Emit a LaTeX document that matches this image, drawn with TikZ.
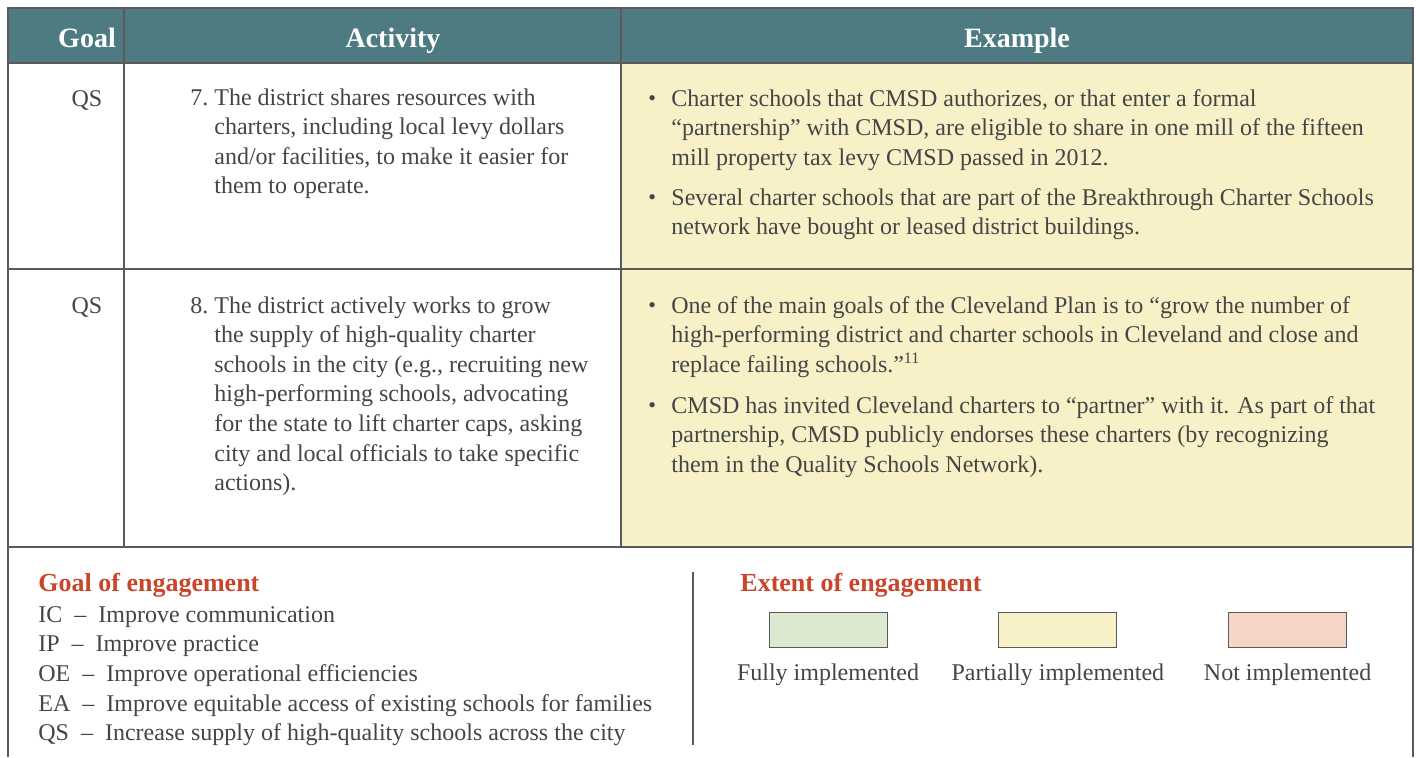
\documentclass[tikz,border=0pt]{standalone}
\usepackage{fontspec}
\setmainfont{Liberation Serif}
\usetikzlibrary{positioning}

\definecolor{headteal}{HTML}{4E7B81}
\definecolor{partyellow}{HTML}{F8F1C8}
\definecolor{fullgreen}{HTML}{DCE8D0}
\definecolor{notpink}{HTML}{F5D6C6}
\definecolor{legendred}{HTML}{C8462B}
\definecolor{txtgray}{HTML}{454545}
\definecolor{rulegray}{HTML}{5A5A5A}

\begin{document}
\begin{tikzpicture}[x=0.5pt,y=-0.5pt, node distance = 55.5pt,
  head/.style={anchor=base, inner sep=0pt, text=white, font=\bfseries\fontsize{14}{16}\selectfont},
  body/.style={anchor=base west, inner sep=0pt, text=txtgray, font=\fontsize{12}{14.8}\selectfont},
  para/.style={anchor=north west, align=left, inner sep=0pt, text=txtgray, font=\fontsize{12}{14.8}\selectfont, execute at begin node=\strut},
  goal/.style={anchor=base, inner sep=0pt, text=txtgray, font=\fontsize{12}{14.8}\selectfont},
  dot/.style={anchor=base west, inner sep=0pt, text=txtgray, font=\fontsize{11}{14.8}\selectfont},
  legtitle/.style={anchor=base west, inner sep=0pt, text=legendred, font=\bfseries\fontsize{13}{15}\selectfont},
  swatch/.style={rectangle, draw=rulegray, minimum width=59pt, minimum height=17.5pt, inner sep=0pt},
  swlabel/.style={inner sep=0pt, text=txtgray, font=\fontsize{12}{14.8}\selectfont},
  rule/.style={draw=rulegray, line width=0.6pt} ]
\useasboundingbox (0,0) rectangle (1416,757);
\fill [white] (0,0) rectangle (1416,757);
\fill [headteal] (8,8) rectangle (1413,63);
\fill [partyellow] (621,63) rectangle (1413,547);
% table rules
\draw [rule] (8,757) -- (8,8) -- (1413,8) -- (1413,757);
\draw [rule] (8,63) -- (1413,63);
\draw [rule] (8,269) -- (1413,269);
\draw [rule] (8,547) -- (1413,547);
\draw [rule] (124,8) -- (124,547);
\draw [rule] (621,8) -- (621,547);
\draw [rule] (693,572) -- (693,745);

% header
\node (hgoal) [head] at (87,47) {Goal};
\node (hact) [head] at (393,47) {Activity};
\node (hex) [head] at (1017,47) {Example};

% row 7
\node (goal7) [goal] at (87,106) {QS};
\node (num7) [body] at (190,105) {7.};
\node (act7) [para] at (214,88) {The district shares resources with\\ charters, including local levy dollars\\ and/or facilities, to make it easier for\\ them to operate.};
\node (dot7a) [dot] at (648,105) {•};
\node (ex7a) [para] at (671,89) {Charter schools that CMSD authorizes, or that enter a formal\\ “partnership” with CMSD, are eligible to share in one mill of the fifteen\\ mill property tax levy CMSD passed in 2012.};
\node (dot7b) [dot] at (648,204) {•};
\node (ex7b) [para] at (671,188) {Several charter schools that are part of the Breakthrough Charter Schools\\ network have bought or leased district buildings.};

% row 8
\node (goal8) [goal] at (87,313) {QS};
\node (num8) [body] at (190,313) {8.};
\node (act8) [para] at (214,296) {The district actively works to grow\\ the supply of high-quality charter\\ schools in the city (e.g., recruiting new\\ high-performing schools, advocating\\ for the state to lift charter caps, asking\\ city and local officials to take specific\\ actions).};
\node (dot8a) [dot] at (648,312) {•};
\node (ex8a) [para] at (671,296) {One of the main goals of the Cleveland Plan is to “grow the number of\\ high-performing district and charter schools in Cleveland and close and\\ replace failing schools.”\textsuperscript{11}};
\node (dot8b) [dot] at (648,412) {•};
\node (ex8b) [para] at (671,396) {CMSD has invited Cleveland charters to “partner” with it. As part of that\\ partnership, CMSD publicly endorses these charters (by recognizing\\ them in the Quality Schools Network).};

% legend
\node (goaltitle) [legtitle] at (38,591) {Goal of engagement};
\node (goallist) [para] at (38,606) {IC~~–~~Improve communication\\ IP~~–~~Improve practice\\ OE~~–~~Improve operational efficiencies\\ EA~~–~~Improve equitable access of existing schools for families\\ QS~~–~~Increase supply of high-quality schools across the city};
\node (extitle) [legtitle] at (740,591) {Extent of engagement};
\node (fullbox) [swatch, fill=fullgreen] at (828,629.5) {};
\node (partbox) [swatch, fill=partyellow, right=of fullbox] {};
\node (notbox) [swatch, fill=notpink, right=of partbox] {};
\node (fulllbl) [swlabel, below=8pt of fullbox] {Fully implemented};
\node (partlbl) [swlabel, below=8pt of partbox] {Partially implemented};
\node (notlbl) [swlabel, below=8pt of notbox] {Not implemented};
\end{tikzpicture}
\end{document}
